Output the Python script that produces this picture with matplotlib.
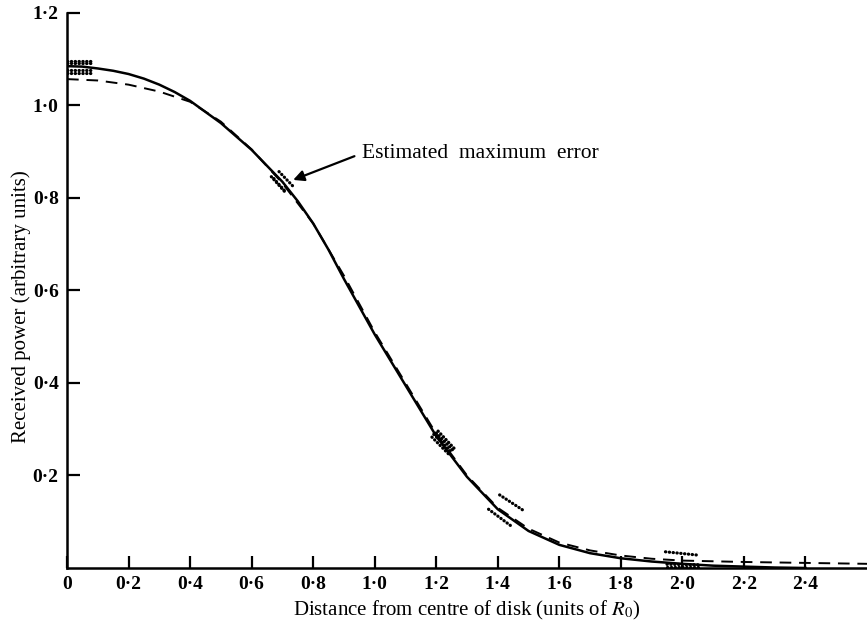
import matplotlib.pyplot as plt
from matplotlib.ticker import FuncFormatter

# solid curve (observed)
x_solid = [0.0, 0.05, 0.1, 0.15, 0.2, 0.25, 0.3, 0.35, 0.4, 0.5, 0.6, 0.7,
           0.75, 0.8, 0.85, 0.9, 0.95, 1.0, 1.1, 1.2, 1.3, 1.4, 1.5, 1.6,
           1.7, 1.8, 1.9, 2.0, 2.1, 2.2, 2.3, 2.4]
y_solid = [1.085, 1.084, 1.080, 1.075, 1.068, 1.058, 1.045, 1.029, 1.010,
           0.962, 0.904, 0.835, 0.793, 0.745, 0.688, 0.625, 0.565, 0.505,
           0.395, 0.285, 0.197, 0.127, 0.080, 0.050, 0.032, 0.021, 0.014,
           0.009, 0.005, 0.003, 0.001, 0.0]

# dashed curve (model)
x_dash = [0.0, 0.1, 0.2, 0.3, 0.4, 0.5, 0.6, 0.7, 0.8, 0.9, 1.0, 1.1, 1.2,
          1.3, 1.4, 1.5, 1.6, 1.7, 1.8, 1.9, 2.0, 2.2, 2.4, 2.6]
y_dash = [1.057, 1.054, 1.045, 1.030, 1.008, 0.965, 0.905, 0.832, 0.745,
          0.632, 0.510, 0.400, 0.290, 0.200, 0.130, 0.085, 0.055, 0.038,
          0.027, 0.020, 0.016, 0.013, 0.011, 0.009]

# dotted error segments: (x0, x1, y0, y1)
err_segments = [
    (0.0, 0.085, 1.097, 1.097),
    (0.0, 0.085, 1.092, 1.092),
    (0.0, 0.085, 1.076, 1.076),
    (0.0, 0.085, 1.071, 1.071),
    (0.664, 0.707, 0.846, 0.814),
    (0.672, 0.712, 0.842, 0.812),
    (0.689, 0.735, 0.857, 0.825),
    (1.186, 1.245, 0.283, 0.243),
    (1.192, 1.252, 0.289, 0.249),
    (1.200, 1.258, 0.292, 0.252),
    (1.206, 1.262, 0.296, 0.256),
    (1.406, 1.482, 0.158, 0.125),
    (1.370, 1.443, 0.127, 0.091),
    (1.945, 2.048, 0.035, 0.028),
    (1.950, 2.050, 0.008, 0.007),
    (1.950, 2.050, 0.003, 0.003),
]

xticks = [0, 0.2, 0.4, 0.6, 0.8, 1.0, 1.2, 1.4, 1.6, 1.8, 2.0, 2.2, 2.4]
yticks = [0.2, 0.4, 0.6, 0.8, 1.0, 1.2]

plt.rcParams["font.family"] = ["Liberation Serif", "DejaVu Serif"]
plt.rcParams["mathtext.fontset"] = "stix"

fig = plt.figure(figsize=(8.67, 6.23), dpi=100)
ax = fig.add_axes([0.0773, 0.0883, 0.9227, 0.8909])

ax.plot(x_solid, y_solid, "-", color="black", linewidth=1.8)
ax.plot(x_dash, y_dash, color="black", linewidth=1.4, dashes=(6, 4))
for x0, x1, y0, y1 in err_segments:
    ax.plot([x0, x1], [y0, y1], color="black", linewidth=2.3,
            linestyle=(0, (0.1, 1.1)), dash_capstyle="round")

ax.annotate("Estimated  maximum  error", xy=(0.735, 0.839), xytext=(0.96, 0.897),
            fontsize=15.5, va="center", ha="left",
            arrowprops=dict(arrowstyle="-|>", color="black", lw=1.6,
                            mutation_scale=16, shrinkA=4, shrinkB=0,
                            relpos=(0, 0.5)))

ax.set_xlim(0, 2.6)
ax.set_ylim(0, 1.2)
ax.spines["top"].set_visible(False)
ax.spines["right"].set_visible(False)
ax.spines["left"].set_linewidth(1.8)
ax.spines["bottom"].set_linewidth(1.8)

fmt = FuncFormatter(lambda v, p: "0" if v == 0 else f"{v:.1f}".replace(".", "\u00b7"))
ax.set_xticks(xticks)
ax.set_yticks(yticks)
ax.xaxis.set_major_formatter(fmt)
ax.yaxis.set_major_formatter(fmt)
ax.tick_params(direction="in", length=9, width=1.6, labelsize=14, pad=6)
for lab in ax.get_xticklabels() + ax.get_yticklabels():
    lab.set_fontweight("bold")

ax.set_xlabel(r"Distance from centre of disk (units of $R_0$)", fontsize=15, labelpad=4)
ax.set_ylabel("Received power (arbitrary units)", fontsize=15, labelpad=8)
ax.yaxis.set_label_coords(-0.045, 0.47)

fig.savefig("out.png", dpi=100)
